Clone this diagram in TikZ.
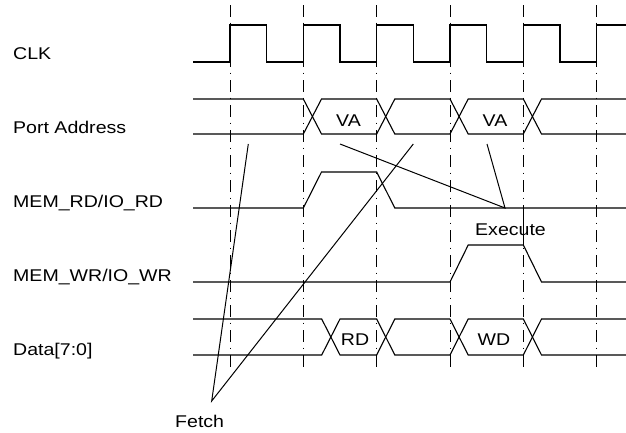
\documentclass[tikz,border=0pt]{standalone}
\usepackage{fontspec}
\setmainfont[FakeStretch=1.15]{Liberation Sans}
\usepackage{tikz}
\usetikzlibrary{positioning}

\begin{document}
\begin{tikzpicture}[
        x=1pt, y=-1pt,
        sig/.style = {line width=1.1pt, line join=miter},
        gridline/.style = {line width=0.9pt, dash pattern=on 11.5pt off 6pt on 1pt off 6.5pt},
        pointer/.style = {line width=1pt},
        signame/.style = {anchor=base west, inner sep=0pt, font=\fontsize{17pt}{20pt}\selectfont},
        buslabel/.style = {anchor=base, inner sep=0pt, font=\fontsize{17pt}{20pt}\selectfont}
    ]
        \useasboundingbox (0,0) rectangle (626,432);
        \def\T{73.333}

        % Cycle markers
        \foreach \k in {0,...,5}
            \draw [gridline] ({230+\T*\k},5) -- ({230+\T*\k},372);

        % Signal names
        \node (clk)  [signame] at (13,59)  {CLK};
        \node (addr) [signame] at (13,133) {Port Address};
        \node (rd)   [signame] at (13,207) {MEM\_RD/IO\_RD};
        \node (wr)   [signame] at (13,281) {MEM\_WR/IO\_WR};
        \node (data) [signame] at (13,355) {Data[7:0]};

        % CLK
        \draw [sig] (193,62) \foreach \i in {0,...,4} {
            -- ({230+\T*\i},62) -- ++(0,-37) -- ++(\T/2,0) -- ++(0,37)
        } -- (596.67,62) -- (596.67,25) -- (626,25);

        % Port Address
        \draw [sig] (193,99) -- (303.33,99) -- (321.5,134) -- (376.67,134) -- (394.8,99)
            -- (450,99) -- (468.2,134) -- (523.33,134) -- (541.5,99) -- (626,99);
        \draw [sig] (193,134) -- (303.33,134) -- (321.5,99) -- (376.67,99) -- (394.8,134)
            -- (450,134) -- (468.2,99) -- (523.33,99) -- (541.5,134) -- (626,134);
        \node (va1) [buslabel] at (348.5,126) {VA};
        \node (va2) [buslabel] at (495,126) {VA};

        % MEM_RD/IO_RD
        \draw [sig] (193,208) -- (303.33,208) -- (321.5,172) -- (376.67,172) -- (394.8,208) -- (626,208);

        % MEM_WR/IO_WR
        \draw [sig] (193,282) -- (450,282) -- (468.2,245) -- (523.33,245) -- (541.5,282) -- (626,282);
        \draw [sig] (523.33,208) -- (523.33,245);

        % Data[7:0]
        \draw [sig] (193,319) -- (321.7,319) -- (340,355) -- (376.67,355) -- (394.8,319)
            -- (450,319) -- (468.2,355) -- (523.33,355) -- (541.5,319) -- (626,319);
        \draw [sig] (193,355) -- (321.7,355) -- (340,319) -- (376.67,319) -- (394.8,355)
            -- (450,355) -- (468.2,319) -- (523.33,319) -- (541.5,355) -- (626,355);
        \node (rdv) [buslabel] at (355,345) {RD};
        \node (wdv) [buslabel] at (494,345) {WD};

        % Execute
        \node (exec) [signame] at (475,235) {Execute};
        \coordinate (exA) at (340,144);
        \coordinate (exB) at (487,144);
        \coordinate (exP) at (505,208);
        \draw [pointer] (exA) -- (exP) -- (exB);

        % Fetch
        \node (fetch) [signame] at (175,427) {Fetch};
        \coordinate (fA) at (248.3,144);
        \coordinate (fB) at (413.3,144);
        \coordinate (fP) at (211.7,401);
        \draw [pointer] (fA) -- (fP) -- (fB);

    \end{tikzpicture}
\end{document}
